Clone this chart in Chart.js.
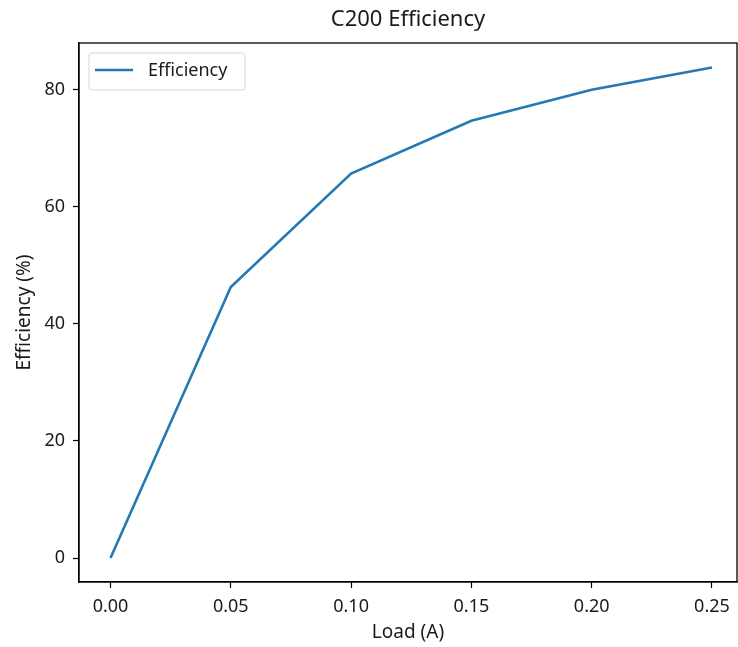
<!DOCTYPE html>
<html>
<head>
<meta charset="utf-8">
<script src="https://cdn.jsdelivr.net/npm/chart.js@4.4.1/dist/chart.umd.min.js"></script>
<style>
  html, body { margin: 0; padding: 0; background: #fff; }
  #wrap { width: 738px; height: 647px; }
</style>
</head>
<body>
<div id="wrap"><canvas id="grafica"></canvas></div>
<script>
// Datos de la curva de eficiencia
const cargaA = [0.00, 0.05, 0.10, 0.15, 0.20, 0.25];
const eficiencia = [0.0, 46.3, 65.7, 74.7, 80.0, 83.8];
const ticksX = [0.00, 0.05, 0.10, 0.15, 0.20, 0.25];
const ticksY = [0, 20, 40, 60, 80];

const fuente = 'Noto Sans';
const colorTexto = '#1a1a1a';
const azul = '#2479b5';

// Marco completo alrededor del area de la grafica
const marco = {
    id: 'marco',
    afterDraw(chart) {
        const a = chart.chartArea;
        const ctx = chart.ctx;
        ctx.save();
        ctx.strokeStyle = '#000';
        ctx.lineWidth = 1.3;
        ctx.strokeRect(a.left, a.top, a.right - a.left, a.bottom - a.top);
        ctx.restore();
    }
};

// Leyenda dentro del area, arriba a la izquierda
const leyenda = {
    id: 'leyenda',
    afterDraw(chart) {
        const ctx = chart.ctx;
        const ds = chart.data.datasets[0];
        const x = 89, y = 53, w = 156, h = 37;
        ctx.save();
        ctx.fillStyle = 'rgba(255,255,255,0.8)';
        ctx.strokeStyle = '#d6d6d6';
        ctx.lineWidth = 1;
        ctx.beginPath();
        ctx.roundRect(x, y, w, h, 3);
        ctx.fill();
        ctx.stroke();
        ctx.strokeStyle = ds.borderColor;
        ctx.lineWidth = ds.borderWidth;
        ctx.beginPath();
        ctx.moveTo(95, 70);
        ctx.lineTo(133, 70);
        ctx.stroke();
        ctx.fillStyle = colorTexto;
        ctx.font = '18px "' + fuente + '"';
        ctx.textBaseline = 'middle';
        ctx.fillText(ds.label, 148, 71);
        ctx.restore();
    }
};

const ctx = document.getElementById('grafica').getContext('2d');
new Chart(ctx, {
    type: 'line',
    data: {
        datasets: [{
            label: 'Efficiency',
            data: cargaA.map((c, i) => ({ x: c, y: eficiencia[i] })),
            borderColor: azul,
            borderWidth: 2.6,
            pointRadius: 0,
            tension: 0,
            fill: false
        }]
    },
    options: {
        responsive: true,
        maintainAspectRatio: false,
        animation: false,
        layout: { padding: { left: 0, right: 1, top: 0, bottom: 0 } },
        plugins: {
            legend: { display: false },
            tooltip: { enabled: false },
            title: {
                display: true,
                text: 'C200 Efficiency',
                fullSize: false,
                color: colorTexto,
                font: { family: fuente, size: 22, weight: 'normal' },
                padding: { top: 7, bottom: 9.6 }
            }
        },
        scales: {
            x: {
                type: 'linear',
                min: -0.0131,
                max: 0.2604,
                afterFit(scale) { scale.height = 65; },
                afterBuildTicks(scale) { scale.ticks = ticksX.map(v => ({ value: v })); },
                ticks: {
                    includeBounds: false,
                    color: colorTexto,
                    font: { family: fuente, size: 18 },
                    padding: 8,
                    maxRotation: 0,
                    callback: v => v.toFixed(2)
                },
                grid: { drawOnChartArea: false, tickLength: 6, tickColor: '#000', tickWidth: 1.2 },
                border: { display: true, color: '#000', width: 1.3 },
                title: {
                    display: true,
                    text: 'Load (A)',
                    color: colorTexto,
                    font: { family: fuente, size: 19 },
                    padding: { top: 0, bottom: 3 }
                }
            },
            y: {
                type: 'linear',
                min: -4.1,
                max: 88.0,
                afterFit(scale) { scale.width = 79; },
                afterBuildTicks(scale) { scale.ticks = ticksY.map(v => ({ value: v })); },
                ticks: {
                    includeBounds: false,
                    color: colorTexto,
                    font: { family: fuente, size: 18 },
                    padding: 8,
                    callback: v => String(v)
                },
                grid: { drawOnChartArea: false, tickLength: 6, tickColor: '#000', tickWidth: 1.2 },
                border: { display: true, color: '#000', width: 1.3 },
                title: {
                    display: true,
                    text: 'Efficiency (%)',
                    color: colorTexto,
                    font: { family: fuente, size: 19 },
                    padding: { top: 13, bottom: 0 }
                }
            }
        }
    },
    plugins: [marco, leyenda]
});
</script>
</body>
</html>
